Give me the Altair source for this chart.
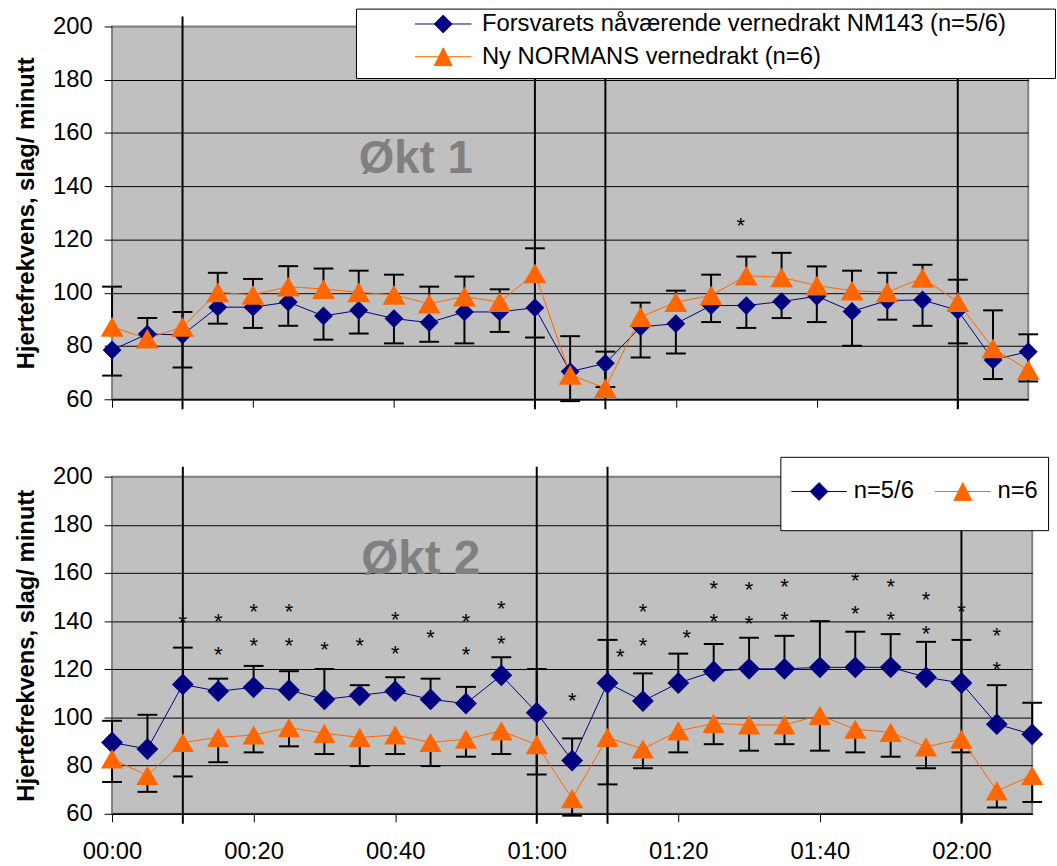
import altair as alt
import pandas as pd

FONT = "Liberation Sans"
NAVY = "#000080"
ORANGE = "#FF6600"

# ---------------- data ----------------
minutes = [0, 5, 10, 15, 20, 25, 30, 35, 40, 45, 50, 55, 60, 65, 70,
           75, 80, 85, 90, 95, 100, 105, 110, 115, 120, 125, 130]
tick_minutes = [0, 20, 40, 60, 80, 100, 120]
y_ticks = [60, 80, 100, 120, 140, 160, 180, 200]
phase_lines = [10, 60, 70, 120]

# Økt 1
okt1_nm143 = [78.5, 84.5, 84.2, 94.6, 94.6, 96.5, 91.3, 93.4, 90.3, 88.8, 92.8, 92.8, 94.4, 70.4,
              73.5, 87.2, 88.4, 95.2, 95.2, 96.7, 98.7, 93.0, 97.1, 97.3, 93.4, 74.8, 77.9]
okt1_nm143_lower = [68.9, 80.0, 71.9, 88.4, 86.8, 87.6, 82.4, 84.7, 81.0, 81.6, 81.0, 85.3, 83.2, 59.3,
                    64.6, 75.7, 77.2, 89.0, 86.8, 90.5, 89.0, 80.1, 89.9, 87.6, 81.0, 67.6, 66.7]
okt1_normans = [87.2, 82.8, 87.2, 100.2, 99.2, 102.3, 101.4, 100.2, 99.2, 95.9, 98.6, 96.5, 107.3, 69.2,
                64.2, 90.9, 96.5, 99.0, 106.4, 105.8, 102.7, 100.8, 100.2, 105.6, 96.5, 79.1, 71.0]
okt1_normans_upper = [102.3, 90.5, 92.8, 107.5, 105.2, 110.0, 109.1, 108.3, 106.8, 102.3, 106.1, 101.3, 116.7, 83.7,
                      77.9, 96.3, 100.8, 106.8, 113.6, 115.0, 109.9, 108.3, 107.5, 110.5, 104.9, 93.4, 84.4]
okt1_star_t = [89.2]
okt1_star_v = [127.1]

# Økt 2
okt2_nm143 = [89.6, 86.9, 113.7, 110.9, 112.5, 111.3, 107.5, 109.2, 110.9, 107.5, 105.8, 117.5, 102.0, 82.1,
              114.3, 106.8, 114.3, 119.1, 120.2, 120.2, 120.8, 120.8, 120.8, 116.7, 114.3, 97.2, 93.0]
okt2_nm143_upper = [98.6, 101.1, 129.0, 116.1, 121.4, 119.2, 120.1, 113.4, 116.7, 116.1, 112.7, 125.0, 120.1, 91.3,
                    132.2, 118.3, 126.5, 130.5, 133.1, 133.9, 140.0, 135.6, 134.6, 131.4, 132.2, 113.4, 106.1]
okt2_normans = [82.8, 75.9, 89.6, 91.7, 92.7, 95.8, 93.4, 91.7, 92.7, 89.6, 91.0, 94.4, 88.7, 66.3,
                91.7, 86.9, 94.4, 97.5, 96.9, 96.9, 100.9, 95.1, 93.8, 87.8, 91.0, 69.5, 75.9]
okt2_normans_lower = [73.2, 69.1, 75.5, 81.4, 85.5, 88.0, 84.8, 79.8, 84.8, 79.8, 83.7, 84.8, 76.3, 59.2,
                      72.2, 78.9, 85.5, 88.9, 86.2, 88.9, 86.2, 85.5, 83.7, 78.9, 85.5, 62.6, 64.9]
okt2_star_t = [10, 15, 15, 20, 20, 25, 25, 30, 35, 40, 40, 45, 50, 50, 55, 55, 65, 71.8,
               75, 75, 81.2, 85, 85, 90, 90, 95, 95, 105, 105, 110, 110, 115, 115, 120, 125, 125]
okt2_star_v = [141.1, 141.5, 127.8, 145.9, 131.9, 145.9, 131.9, 130.1, 131.9, 142.4, 128.4, 135.1, 141.7, 127.8,
               146.9, 132.6, 108.9, 127.0, 145.9, 131.9, 135.1, 155.5, 141.5, 154.8, 140.7, 156.4, 142.4,
               158.9, 144.9, 156.4, 142.4, 150.7, 136.6, 145.9, 136.0, 121.9]

legend_top = ["Forsvarets nåværende vernedrakt NM143 (n=5/6)", "Ny NORMANS vernedrakt (n=6)"]
legend_bottom = ["n=5/6", "n=6"]

Y_TITLE = "Hjertefrekvens, slag/ minutt"


def legend_paths(unit, line_half, marker_half, up=None, down=None, right=None):
    """Legend glyph: a short line with a marker; extra move-to points only widen the glyph bounds."""
    l = line_half / unit
    m = marker_half / unit
    extra = ""
    if up is not None:
        extra += f"M0,{-up / unit:.3f}"
    if down is not None:
        extra += f"M0,{down / unit:.3f}"
    if right is not None:
        extra += f"M{right / unit:.3f},0"
    line = f"M{-l:.3f},0L{l:.3f},0"
    diamond = line + f"M0,{-m:.3f}L{m:.3f},0L0,{m:.3f}L{-m:.3f},0Z" + extra
    tri = line + f"M0,{-m:.3f}L{m:.3f},{m:.3f}L{-m:.3f},{m:.3f}Z" + extra
    return [diamond, tri]


LABEL_EXPR = ("(floor(datum.value/60) < 10 ? '0' : '') + floor(datum.value/60) + ':' + "
              "(datum.value % 60 < 10 ? '0' : '') + (datum.value % 60)")


def panel(nm, nm_err, no, no_err, star_t, star_v, tag, tag_t, tag_v, tag_size,
          labels, legend, paths, width, height, x_labels, dsize, tsize):
    df = pd.DataFrame({"t": minutes, "nm": nm, "nm_err": nm_err, "no": no, "no_err": no_err})
    xscale = alt.Scale(domain=[0, 130], nice=False, zero=False)
    yscale = alt.Scale(domain=[60, 200], nice=False, zero=False)
    xaxis = alt.Axis(values=tick_minutes, labels=x_labels, labelExpr=LABEL_EXPR, title=None,
                     grid=False, ticks=True, tickSize=8, domain=True, domainColor="black",
                     domainWidth=1.5, labelPadding=18, labelFlush=False, labelOverlap=False)
    yaxis = alt.Axis(values=y_ticks, title=Y_TITLE, grid=True,
                     gridColor={"condition": {"test": "datum.value >= 200", "value": "#808080"},
                                "value": "black"},
                     gridWidth=1, domain=False, tickSize=8, labelPadding=12, titlePadding=14,
                     labelFlush=False)

    def X(f="t:Q"):
        return alt.X(f, scale=xscale, axis=xaxis)

    def Y(f):
        return alt.Y(f, scale=yscale, axis=yaxis)

    base = alt.Chart(df)
    nm_bar = base.mark_rule(color="black", strokeWidth=2).encode(x=X(), y=Y("nm:Q"), y2="nm_err:Q")
    vlines = alt.Chart(pd.DataFrame({"t": phase_lines})).mark_rule(color="black", strokeWidth=2).encode(
        x=X(), y=alt.value(-10), y2=alt.value(height + 10))
    nm_cap = base.mark_tick(orient="horizontal", size=20, thickness=2, color="black", opacity=1).encode(
        x=X(), y=Y("nm_err:Q"))
    no_bar = base.mark_rule(color="black", strokeWidth=2).encode(x=X(), y=Y("no:Q"), y2="no_err:Q")
    no_cap = base.mark_tick(orient="horizontal", size=20, thickness=2, color="black", opacity=1).encode(
        x=X(), y=Y("no_err:Q"))
    nm_line = base.mark_line(color=NAVY, strokeWidth=1).encode(x=X(), y=Y("nm:Q"))
    no_line = base.mark_line(color=ORANGE, strokeWidth=1).encode(x=X(), y=Y("no:Q"))
    nm_pts = base.mark_point(shape="diamond", filled=True, color=NAVY, size=dsize, opacity=1).encode(
        x=X(), y=Y("nm:Q"))
    no_pts = base.mark_point(shape="triangle-up", filled=True, color=ORANGE, size=tsize, opacity=1).encode(
        x=X(), y=Y("no:Q"))
    stars = alt.Chart(pd.DataFrame({"t": star_t, "v": star_v})).mark_text(
        text="*", font=FONT, fontSize=22, color="black", baseline="alphabetic", dy=12).encode(
        x=X(), y=Y("v:Q"))
    tag_mark = alt.Chart(pd.DataFrame({"t": [tag_t], "v": [tag_v], "txt": [tag]})).mark_text(
        font=FONT, fontSize=tag_size, fontWeight="bold", color="#808080", align="left",
        baseline="alphabetic").encode(x=X(), y=Y("v:Q"), text="txt:N")
    leg_df = pd.DataFrame({"series": labels, "t": [0, 0], "v": [0, 0]})
    leg_layer = alt.Chart(leg_df).mark_point(filled=True, clip=True, opacity=1).encode(
        x=X(), y=Y("v:Q"),
        fill=alt.Fill("series:N", scale=alt.Scale(domain=labels, range=[NAVY, ORANGE]), legend=legend),
        stroke=alt.Stroke("series:N", scale=alt.Scale(domain=labels, range=[NAVY, ORANGE]), legend=legend),
        shape=alt.Shape("series:N", scale=alt.Scale(domain=labels, range=paths), legend=legend))
    return alt.layer(vlines, nm_bar, nm_cap, no_bar, no_cap, nm_line, no_line, nm_pts, no_pts,
                     stars, tag_mark, leg_layer).properties(width=width, height=height)


# top legend: glyph box 26 px (13 px per path unit)
top_leg = alt.Legend(title=None, orient="none", legendX=246, legendY=-18, direction="vertical",
                     fillColor="white", strokeColor="black", padding=2,
                     labelFont=FONT, labelFontSize=24, labelColor="black", labelLimit=2000,
                     symbolSize=676, symbolStrokeWidth=1, symbolOpacity=1,
                     symbolOffset=72.5, labelOffset=25.5, rowPadding=0)
# bottom legend: glyph box 49 px (24.5 px per path unit)
bot_leg = alt.Legend(title=None, orient="none", legendX=674, legendY=-20, direction="horizontal",
                     fillColor="white", strokeColor="black", padding=10,
                     labelFont=FONT, labelFontSize=24, labelColor="black", labelLimit=2000,
                     symbolSize=2401, symbolStrokeWidth=1, symbolOpacity=1,
                     symbolOffset=4, labelOffset=10, columnPadding=18)

top = panel(okt1_nm143, okt1_nm143_lower, okt1_normans, okt1_normans_upper,
            okt1_star_t, okt1_star_v, "Økt 1", 35, 145, 46,
            legend_top, top_leg, legend_paths(13, 28.5, 9, down=17, right=612), 924, 376, False, 361, 530)
bottom = panel(okt2_nm143, okt2_nm143_upper, okt2_normans, okt2_normans_lower,
               okt2_star_t, okt2_star_v, "Økt 2", 35.2, 159.6, 48,
               legend_bottom, bot_leg, legend_paths(24.5, 28, 9, up=23, down=27), 928, 340, True, 484, 500)

chart = alt.vconcat(top, bottom, spacing=43).resolve_scale(
    x="independent", y="independent", fill="independent", stroke="independent", shape="independent"
).resolve_legend(fill="independent", stroke="independent", shape="independent").configure_view(
    fill="#C0C0C0", stroke="#808080", strokeWidth=2
).configure_axis(
    labelFont=FONT, labelFontSize=24, labelColor="black", titleFont=FONT, titleFontSize=24,
    titleFontWeight="bold", titleColor="black", tickColor="black", tickWidth=1
).properties(padding={"left": 13, "top": 3, "right": 0, "bottom": 0}, background="white")

chart.save("out.html", embed_options={"renderer": "svg", "actions": False})
